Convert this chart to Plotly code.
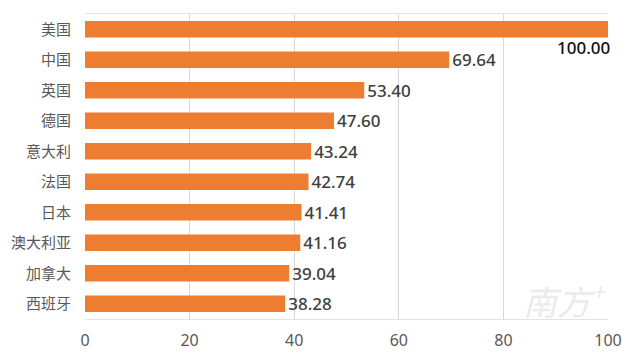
import plotly.graph_objects as go

countries = ["美国", "中国", "英国", "德国", "意大利", "法国", "日本", "澳大利亚", "加拿大", "西班牙"]
values = [100.00, 69.64, 53.40, 47.60, 43.24, 42.74, 41.41, 41.16, 39.04, 38.28]
x_ticks = [0, 20, 40, 60, 80, 100]

labels = [f"{v:.2f}" for v in values]
positions = ["none" if v >= 100 else "outside" for v in values]

fig = go.Figure()
fig.add_trace(go.Bar(
    x=values, y=countries, orientation="h",
    marker=dict(color="#ED7D31", line=dict(width=0)),
    text=labels, textposition=positions, constraintext="none",
    textfont=dict(family="Noto Sans", size=17, color="#404040", weight=500),
    cliponaxis=False,
))

# label for the bar that reaches the axis end
fig.add_annotation(x=values[0], y=countries[0], text=labels[0], showarrow=False,
                   xanchor="right", yanchor="top", yshift=-5, xshift=4,
                   font=dict(family="Noto Sans", size=17, color="#111111", weight=500))

fig.add_annotation(x=1.0, y=0.0, xref="paper", yref="paper", text="<i>南方<sup>+</sup></i>",
                   showarrow=False, xanchor="right", yanchor="bottom", yshift=-8,
                   font=dict(family="Noto Sans CJK SC", size=34, color="#ebebeb"))

fig.update_layout(
    width=640, height=361,
    margin=dict(l=77, r=40, t=6, b=50, autoexpand=False),
    paper_bgcolor="white", plot_bgcolor="white",
    bargap=0.46, showlegend=False,
    font=dict(family="Noto Sans CJK SC, Noto Sans", size=15, color="#595959"),
    xaxis=dict(range=[0, 100], tickvals=x_ticks, showgrid=True, gridcolor="#d9d9d9",
               gridwidth=1, zeroline=False, showline=True, linecolor="#e3e3e3", mirror=True,
               tickfont=dict(family="Noto Sans", size=16, color="#595959"), ticks="",
               ticklabelstandoff=7, automargin=False),
    yaxis=dict(categoryorder="array", categoryarray=countries[::-1], showgrid=False,
               showline=False, ticks="", ticklabelstandoff=13, automargin=False,
               tickfont=dict(size=15, color="#595959")),
)

fig.write_html("out.html")
